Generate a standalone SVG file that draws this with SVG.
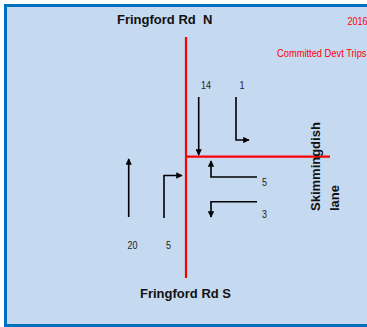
<svg xmlns="http://www.w3.org/2000/svg" width="367" height="327" viewBox="0 0 367 327">
<defs>
<marker id="ah" viewBox="0 0 10 10" refX="9" refY="5" markerWidth="4" markerHeight="4" orient="auto" markerUnits="strokeWidth">
<path d="M0,0 L10,5 L0,10 z" fill="#000"/>
</marker>
<style>
.road{stroke:#FF0000;stroke-width:2.2;fill:none}
.arr{stroke:#000;stroke-width:1.6;fill:none;marker-end:url(#ah)}
.lbl{font-family:"Liberation Sans",Arial,sans-serif;font-weight:bold;font-size:13px;fill:#111;white-space:pre}
.num{font-family:"Liberation Sans",Arial,sans-serif;font-size:10.5px;fill:#222}
.red{font-family:"Liberation Sans",Arial,sans-serif;font-size:10.5px;fill:#FF0000}
</style>
</defs>
<rect x="5.5" y="5.5" width="380" height="320" fill="#C5D9F0" stroke="#0070C0" stroke-width="3"/>
<g id="roads">
<line class="road" x1="186" y1="37" x2="186" y2="278"/>
<line class="road" x1="186" y1="156.7" x2="330" y2="156.7"/>
</g>
<g id="titles">
<text class="lbl" x="117" y="23.5" xml:space="preserve">Fringford Rd  N</text>
<text class="lbl" x="140" y="298">Fringford Rd S</text>
<text class="lbl" transform="translate(320,211) rotate(-90)">Skimmingdish</text>
<text class="lbl" transform="translate(339,211) rotate(-90)">lane</text>
<text class="red" x="347.5" y="25" textLength="20" lengthAdjust="spacingAndGlyphs">2016</text>
<text class="red" x="277" y="56.7" textLength="89.5" lengthAdjust="spacingAndGlyphs">Committed Devt Trips</text>
</g>
<g id="connectors">
<path class="arr" d="M198.7,97 V155"/>
<path class="arr" d="M236,97 V140 H249"/>
<path class="arr" d="M128.7,217 V159"/>
<path class="arr" d="M164,218 V175.5 H182"/>
<path class="arr" d="M257,177 H211 V161"/>
<path class="arr" d="M257,201.7 H211 V217"/>
</g>
<g id="labels">
<text class="num" x="201" y="89.3" textLength="10" lengthAdjust="spacingAndGlyphs">14</text>
<text class="num" x="239.5" y="89.3" textLength="5" lengthAdjust="spacingAndGlyphs">1</text>
<text class="num" x="262" y="185.5" textLength="5" lengthAdjust="spacingAndGlyphs">5</text>
<text class="num" x="262" y="217.5" textLength="5" lengthAdjust="spacingAndGlyphs">3</text>
<text class="num" x="127.5" y="249" textLength="10" lengthAdjust="spacingAndGlyphs">20</text>
<text class="num" x="166" y="249" textLength="5" lengthAdjust="spacingAndGlyphs">5</text>
</g>
</svg>
